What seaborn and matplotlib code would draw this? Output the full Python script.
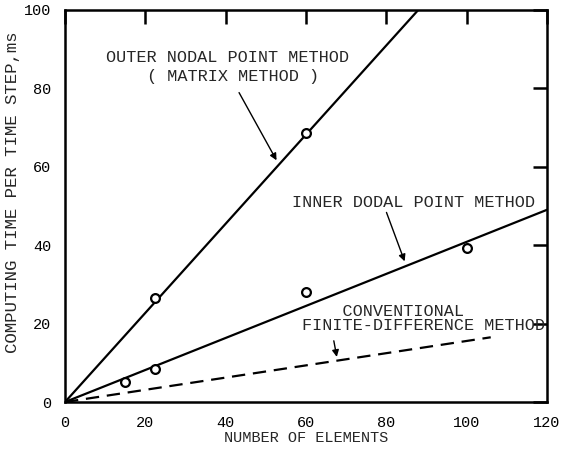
import matplotlib
matplotlib.use("Agg")
import matplotlib.pyplot as plt
import seaborn as sns
import pandas as pd

# Measured computing times (ms per time step)
outer_x = [22.5, 60]
outer_y = [26.5, 68.5]
inner_x = [15, 22.5, 60, 100]
inner_y = [5.0, 8.5, 28.0, 39.2]

# Fitted straight lines for each method
outer_fit_x = [0, 88]
outer_fit_y = [0, 100]
inner_fit_x = [0, 120]
inner_fit_y = [0, 49]
conv_fit_x = [0, 106]
conv_fit_y = [0, 16.5]

x_ticks = [0, 20, 40, 60, 80, 100, 120]
y_ticks = [0, 20, 40, 60, 80, 100]

sns.set_style("white")
plt.rcParams["font.family"] = ["Liberation Mono", "DejaVu Sans Mono"]

fig = plt.figure(figsize=(5.63, 4.54), dpi=100)
ax = fig.add_axes([0.1155, 0.1145, 0.856, 0.864])

lw = 1.6
sns.lineplot(x=outer_fit_x, y=outer_fit_y, ax=ax, color="black", lw=lw)
sns.lineplot(x=inner_fit_x, y=inner_fit_y, ax=ax, color="black", lw=lw)
sns.lineplot(x=conv_fit_x, y=conv_fit_y, ax=ax, color="black", lw=lw,
             dashes=False, linestyle=(0, (6, 3.5)))

pts = pd.DataFrame({"x": outer_x + inner_x, "y": outer_y + inner_y})
sns.scatterplot(data=pts, x="x", y="y", ax=ax, marker="o", s=40,
                facecolor="white", edgecolor="black", linewidth=1.6, zorder=5)

ax.set_xlim(0, 120)
ax.set_ylim(0, 100)
ax.set_xticks(x_ticks)
ax.set_yticks(y_ticks)
ax.set_xticklabels([str(v) for v in x_ticks])
ax.set_yticklabels([str(v) for v in y_ticks])
ax.tick_params(direction="in", length=10, width=1.8, labelsize=11,
               top=True, right=True, pad=10, colors="black")
for s in ax.spines.values():
    s.set_color("black")
    s.set_linewidth(1.8)

ax.set_xlabel("NUMBER OF ELEMENTS", fontsize=11, labelpad=1)
ax.set_ylabel("COMPUTING TIME PER TIME STEP,ms", fontsize=12.5)
ax.yaxis.set_label_coords(-0.093, 0.536)

fs = 12.2
arrow = dict(arrowstyle="-|>", color="black", lw=1.0, mutation_scale=10)
ax.text(40.5, 87.8, "OUTER NODAL POINT METHOD", ha="center", va="center", fontsize=fs)
ax.text(41.9, 82.9, "( MATRIX METHOD )", ha="center", va="center", fontsize=fs)
ax.annotate("", xy=(53, 61), xytext=(43, 79.5), arrowprops=arrow)

ax.text(86.7, 50.8, "INNER DODAL POINT METHOD", ha="center", va="center", fontsize=fs)
ax.annotate("", xy=(84.8, 35.2), xytext=(79.8, 49.0), arrowprops=arrow)

ax.text(59.0, 21.3, "    CONVENTIONAL\nFINITE-DIFFERENCE METHOD", ha="left",
        va="center", multialignment="left", fontsize=fs, linespacing=0.85)
ax.annotate("", xy=(67.8, 10.8), xytext=(66.8, 16.3), arrowprops=arrow)

fig.savefig("out.png", dpi=100)
